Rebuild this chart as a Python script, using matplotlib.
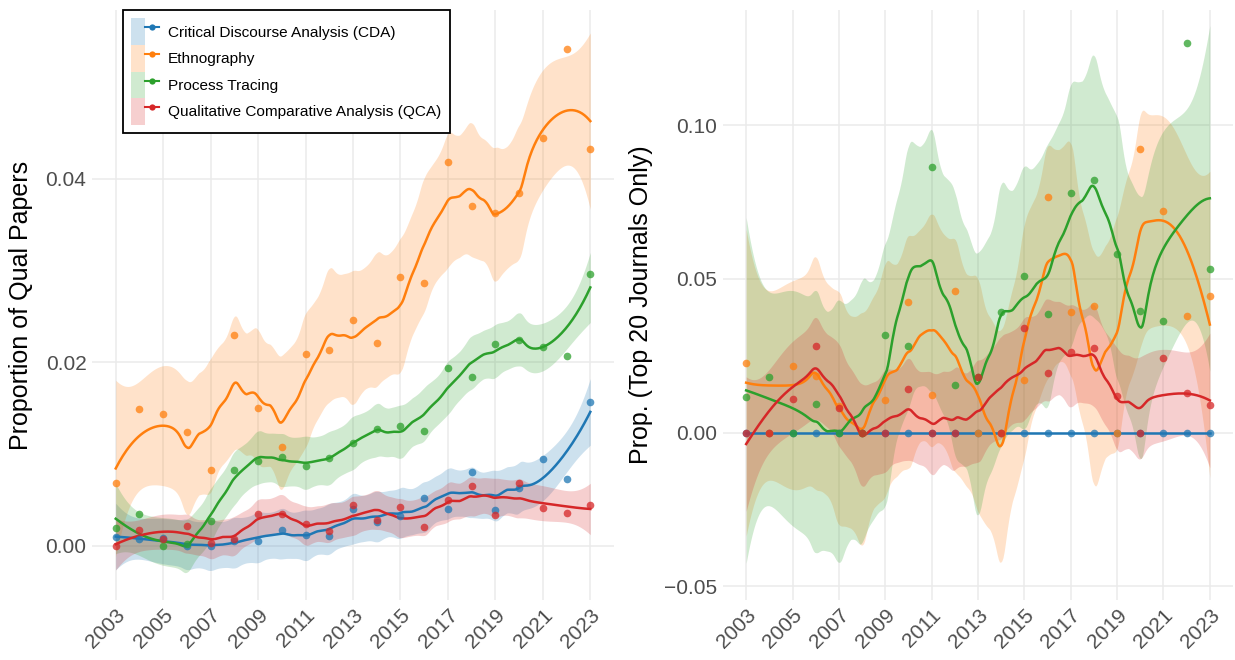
import numpy as np
import matplotlib
matplotlib.use("Agg")
import matplotlib.pyplot as plt
from matplotlib.patches import Patch
from matplotlib.lines import Line2D
from matplotlib.legend_handler import HandlerTuple

plt.rcParams['font.family'] = ['Liberation Sans', 'DejaVu Sans']

years = np.arange(2003, 2024)
methods = ["Critical Discourse Analysis (CDA)", "Ethnography", "Process Tracing",
           "Qualitative Comparative Analysis (QCA)"]
colors = ["#1f77b4", "#ff7f0e", "#2ca02c", "#d62728"]

# Left panel: all journals
cda_all = [0.00098, 0.00076, 0.00087, 0.0, 0.0, 0.00058, 0.00055, 0.00174, 0.00116, 0.0011,
           0.0040, 0.00265, 0.0033, 0.00523, 0.0040, 0.0080, 0.0039, 0.0063, 0.0095, 0.0073, 0.0157]
eth_all = [0.0069, 0.0149, 0.0144, 0.0124, 0.0083, 0.0230, 0.0150, 0.0108, 0.0209, 0.0213,
           0.0246, 0.0221, 0.0293, 0.0287, 0.0418, 0.0370, 0.0363, 0.0385, 0.0445, 0.0541, 0.0433]
pt_all = [0.0020, 0.0035, 0.0, 0.0002, 0.0027, 0.0083, 0.0092, 0.0097, 0.0087, 0.0096,
          0.0112, 0.0127, 0.0131, 0.0125, 0.0194, 0.0184, 0.0220, 0.0224, 0.0217, 0.0207, 0.0296]
qca_all = [0.0, 0.0017, 0.0008, 0.0022, 0.0003, 0.0007, 0.00345, 0.00345, 0.00236, 0.00163,
           0.0045, 0.0028, 0.0042, 0.0021, 0.0050, 0.0065, 0.0034, 0.0068, 0.0041, 0.0036, 0.0044]

# Right panel: top 20 journals only
cda_top = [0.0] * 21
eth_top = [0.0225, 0.0, 0.0216, 0.0185, 0.0087, 0.0, 0.0105, 0.0425, 0.0123, 0.0460,
           0.0, 0.0, 0.0171, 0.0768, 0.0391, 0.0411, 0.0, 0.0921, 0.0722, 0.0380, 0.0444]
pt_top = [0.0114, 0.0181, 0.0, 0.0093, 0.0, 0.0, 0.0317, 0.0282, 0.0864, 0.0155,
          0.0180, 0.0393, 0.0510, 0.0386, 0.0778, 0.0821, 0.0582, 0.0395, 0.0363, 0.1268, 0.0532]
qca_top = [0.0, 0.0, 0.0108, 0.0281, 0.0080, 0.0, 0.0, 0.0141, 0.0, 0.0,
           0.0180, 0.0, 0.0340, 0.0193, 0.0262, 0.0275, 0.0119, 0.0, 0.0241, 0.0127, 0.0089]

left_series = [cda_all, eth_all, pt_all, qca_all]
right_series = [cda_top, eth_top, pt_top, qca_top]


def loess(x, y, xg, span=0.3, deg=2):
    x = np.asarray(x, float)
    y = np.asarray(y, float)
    n = len(x)
    k = int(np.ceil(span * n))

    def rows(pts):
        L = np.zeros((len(pts), n))
        for i, x0 in enumerate(pts):
            d = np.abs(x - x0)
            h = np.sort(d)[k - 1] * 1.0001
            w = np.clip(1 - (d / h) ** 3, 0, None) ** 3
            X = np.vander(x - x0, deg + 1, increasing=True)
            A = X.T @ (w[:, None] * X)
            L[i] = np.linalg.solve(A, (X * w[:, None]).T)[0]
        return L

    Ld = rows(x)
    res = y - Ld @ y
    M = np.eye(n) - Ld
    d1 = np.trace(M.T @ M)
    sigma = np.sqrt(np.sum(res ** 2) / d1) if d1 > 0 else 0.0
    Lg = rows(xg)
    fit = Lg @ y
    se = sigma * np.sqrt(np.sum(Lg ** 2, axis=1))
    return fit, se


fig = plt.figure(figsize=(12.35, 6.6), dpi=100)
axL = fig.add_axes([0.0745, 0.0909, 0.4227, 0.894])
axR = fig.add_axes([0.5854, 0.0909, 0.4130, 0.894])

xg = np.linspace(2003, 2023, 400)


def draw(ax, series, span):
    for s, c in zip(series, colors):
        s = np.asarray(s, float)
        if np.allclose(s, 0):
            fit, se = np.zeros_like(xg), np.zeros_like(xg)
        else:
            fit, se = loess(years, s, xg, span=span)
        ax.fill_between(xg, fit - 2.2 * se, fit + 2.2 * se, color=c, alpha=0.22, lw=0)
        ax.plot(xg, fit, color=c, lw=1.8, zorder=3)
        ax.plot(years, s, 'o', color=c, ms=5.5, alpha=0.75, mec='none', zorder=4)
    ax.set_xlim(2002, 2024)
    ax.set_xticks(np.arange(2003, 2024, 2))
    ax.set_xticklabels([str(v) for v in range(2003, 2024, 2)], rotation=45,
                       ha='right', va='top', rotation_mode='anchor')
    ax.grid(True, color='#ebebeb', lw=1.1)
    ax.set_axisbelow(True)
    for sp in ax.spines.values():
        sp.set_visible(False)
    ax.tick_params(length=0, labelsize=15, colors='#4d4d4d', pad=4)


draw(axL, left_series, 0.3)
draw(axR, right_series, 0.3)

axL.set_ylim(-0.0059, 0.0584)
axL.set_yticks([0.0, 0.02, 0.04])
axL.set_yticklabels(["0.00", "0.02", "0.04"])
axL.set_ylabel("Proportion of Qual Papers", fontsize=18, labelpad=9)

axR.set_ylim(-0.0545, 0.1375)
axR.set_yticks([-0.05, 0.0, 0.05, 0.10])
axR.set_yticklabels(["\u22120.05", "0.00", "0.05", "0.10"])
axR.set_ylabel("Prop. (Top 20 Journals Only)", fontsize=18, labelpad=8)

handles = [(Patch(facecolor=c, alpha=0.22, lw=0),
            Line2D([], [], color=c, lw=1.5, marker='o', ms=4.5, mec='none'))
           for c in colors]
leg = axL.legend(handles, methods, handler_map={tuple: HandlerTuple(ndivide=None, pad=0)},
                 loc='upper left', bbox_to_anchor=(0.0588, 1.0), borderaxespad=0,
                 fontsize=11.1, handlelength=1.8, handleheight=2.28, labelspacing=0.0,
                 handletextpad=0.58, borderpad=0.55, fancybox=False, framealpha=1,
                 edgecolor='black')
leg.get_frame().set_linewidth(1.3)

fig.savefig("out.png", dpi=100)
